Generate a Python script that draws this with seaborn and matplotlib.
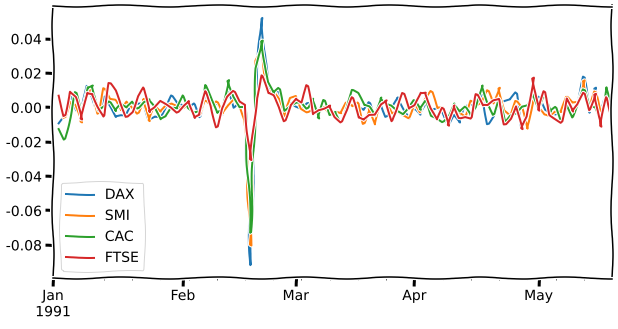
import numpy as np
import pandas as pd
import matplotlib
matplotlib.use("Agg")
import matplotlib.pyplot as plt
import seaborn as sns

# ---- data: daily returns, business days starting 1991-01-01 (first day has no return) ----
start_date = "1991-01-01"
n_days = 100
series_names = ["DAX", "SMI", "CAC", "FTSE"]

dax = [-0.0093, -0.0044, 0.0090, -0.0018, -0.0047, 0.0125, 0.0058, -0.0029, 0.0064, 0.0012,
       -0.0058, -0.0051, -0.0052, 0.0020, 0.0018, 0.0027, -0.0066, -0.0048, -0.0052, 0.0005,
       0.0068, 0.0016, 0.0007, -0.0005, 0.0021, -0.0056, 0.0111, -0.0009, 0.0019, -0.0042,
       0.0147, -0.0002, 0.0025, -0.0003, -0.0918, 0.0150, 0.0521, 0.0117, 0.0087, 0.0094,
       -0.0038, 0.0028, 0.0007, -0.0010, 0.0022, 0.0024, -0.0048, -0.0003, -0.0016, -0.0047,
       -0.0078, 0.0017, 0.0022, 0.0009, -0.0015, 0.0028, -0.0089, 0.0021, -0.0053, 0.0012,
       0.0060, -0.0012, -0.0068, -0.0012, -0.0045, 0.0024, -0.0011, 0.0000, -0.0016, -0.0098,
       -0.0043, -0.0090, 0.0001, 0.0010, 0.0013, 0.0087, -0.0097, -0.0052, 0.0021, 0.0033,
       0.0042, 0.0084, -0.0110, -0.0004, 0.0045, 0.0060, -0.0017, -0.0039, -0.0046, -0.0029,
       0.0065, -0.0027, 0.0052, 0.0178, -0.0031, 0.0116, -0.0053, 0.0073, -0.0001]

smi = [0.0062, -0.0059, 0.0033, 0.0015, -0.0089, 0.0068, 0.0123, -0.0036, 0.0111, 0.0044,
       0.0039, -0.0018, 0.0034, 0.0004, -0.0033, 0.0051, -0.0081, 0.0003, -0.0027, 0.0013,
       0.0024, 0.0011, 0.0000, 0.0025, -0.0043, -0.0042, 0.0038, -0.0002, 0.0031, -0.0036,
       0.0014, 0.0053, 0.0031, -0.0074, -0.0804, 0.0272, 0.0337, 0.0094, 0.0098, 0.0048,
       -0.0056, 0.0054, 0.0067, -0.0005, -0.0024, -0.0007, -0.0025, 0.0005, -0.0044, -0.0028,
       -0.0039, 0.0025, 0.0003, 0.0026, -0.0095, 0.0000, -0.0099, 0.0014, 0.0020, -0.0037,
       -0.0026, -0.0042, -0.0059, 0.0037, -0.0028, 0.0046, 0.0092, -0.0005, -0.0001, -0.0064,
       0.0010, -0.0025, -0.0049, 0.0038, 0.0007, 0.0023, 0.0098, 0.0023, 0.0116, -0.0016,
       -0.0048, 0.0036, -0.0009, -0.0124, 0.0061, 0.0006, -0.0041, -0.0054, -0.0028, -0.0032,
       0.0060, 0.0027, 0.0033, 0.0159, -0.0017, 0.0091, -0.0022, 0.0034, -0.0009]

cac = [-0.0126, -0.0186, -0.0058, 0.0088, -0.0051, 0.0118, 0.0132, -0.0019, 0.0002, 0.0031,
       -0.0024, 0.0015, -0.0003, 0.0034, -0.0004, 0.0035, 0.0052, 0.0011, -0.0070, -0.0055,
       -0.0007, -0.0011, 0.0069, -0.0002, -0.0024, -0.0015, 0.0130, 0.0040, -0.0034, -0.0017,
       0.0160, 0.0064, 0.0000, 0.0000, -0.0730, 0.0226, 0.0390, 0.0146, 0.0079, 0.0109,
       -0.0020, 0.0011, 0.0032, 0.0036, -0.0004, 0.0052, -0.0066, 0.0042, -0.0044, -0.0024,
       -0.0083, 0.0011, 0.0101, 0.0081, 0.0011, 0.0001, -0.0048, 0.0059, 0.0027, 0.0015,
       -0.0017, -0.0039, -0.0007, 0.0039, -0.0017, 0.0036, -0.0048, -0.0060, -0.0081, -0.0045,
       0.0024, -0.0025, 0.0001, -0.0053, -0.0002, 0.0128, 0.0035, -0.0042, 0.0047, -0.0098,
       -0.0050, -0.0035, 0.0007, 0.0017, 0.0094, -0.0012, 0.0065, -0.0027, 0.0000, -0.0082,
       0.0029, -0.0058, 0.0014, 0.0103, 0.0000, 0.0004, -0.0062, 0.0117, -0.0028]

ftse = [0.0068, -0.0049, 0.0091, 0.0058, -0.0072, 0.0086, 0.0082, 0.0008, -0.0052, 0.0141,
        0.0096, 0.0016, -0.0053, -0.0023, 0.0067, 0.0115, -0.0029, -0.0003, 0.0038, 0.0022,
        0.0002, -0.0026, 0.0011, 0.0039, -0.0063, -0.0047, 0.0094, 0.0012, -0.0115, -0.0005,
        0.0060, 0.0092, 0.0032, 0.0015, -0.0307, 0.0055, 0.0186, 0.0081, 0.0067, 0.0000,
        -0.0079, 0.0017, 0.0053, 0.0028, 0.0128, -0.0040, -0.0016, -0.0005, 0.0015, -0.0053,
        -0.0084, -0.0016, 0.0058, -0.0061, -0.0075, -0.0045, -0.0042, 0.0020, 0.0045, -0.0080,
        -0.0011, 0.0082, -0.0008, 0.0013, 0.0087, 0.0091, -0.0005, -0.0070, -0.0004, -0.0108,
        0.0013, -0.0059, -0.0051, -0.0061, 0.0076, 0.0009, 0.0009, 0.0038, 0.0048, -0.0098,
        -0.0063, 0.0006, -0.0128, -0.0054, 0.0174, -0.0020, 0.0093, -0.0043, -0.0064, -0.0085,
        0.0052, -0.0026, 0.0015, 0.0083, -0.0016, 0.0081, -0.0113, 0.0059, -0.0059]

series_values = [dax, smi, cac, ftse]

# ---- business-day axis (like pandas' period axis) ----
dates = pd.bdate_range(start_date, periods=n_days)
pos = np.arange(n_days)
month_starts = [i for i in range(n_days) if i == 0 or dates[i].month != dates[i - 1].month]
month_labels = [dates[i].strftime("%b") + ("\n%d" % dates[i].year if k == 0 else "")
                for k, i in enumerate(month_starts)]
week_starts = [i for i in range(1, n_days)
               if dates[i].weekday() == 0 and i not in month_starts]

W, H, DPI = 618, 329, 72
with plt.xkcd():
    plt.rcParams["font.family"] = ["DejaVu Sans"]
    plt.rcParams["font.size"] = 14
    fig = plt.figure(figsize=(W / DPI, H / DPI), dpi=DPI)
    ax = fig.add_axes([53 / W, 1 - 277.5 / H, (612 - 53) / W, (277.5 - 5.5) / H])
    palette = sns.color_palette("tab10", len(series_names))
    for name, vals, col in zip(series_names, series_values, palette):
        sns.lineplot(x=pos[1:], y=vals, ax=ax, color=col, label=name,
                     estimator=None, sort=False)
    ax.set_xlim(pos[0], pos[-1])
    ax.set_xticks(month_starts)
    ax.set_xticklabels(month_labels)
    ax.set_xticks(week_starts, minor=True)
    ax.set_yticks([-0.08, -0.06, -0.04, -0.02, 0.00, 0.02, 0.04])
    ax.set_yticklabels(["%.2f" % v for v in [-0.08, -0.06, -0.04, -0.02, 0.00, 0.02, 0.04]])
    ax.set_xlabel("")
    ax.set_ylabel("")
    ax.legend(loc="lower left")
    fig.savefig("out.png", dpi=DPI)
